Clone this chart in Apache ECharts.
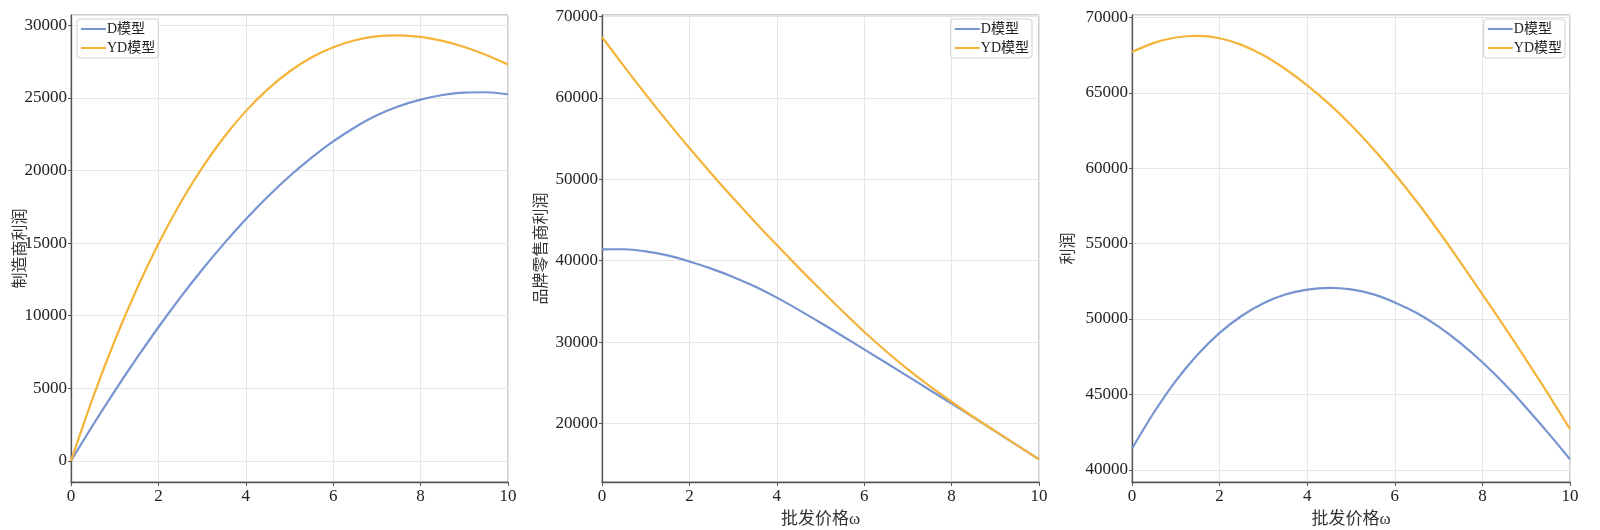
<!DOCTYPE html>
<html>
<head>
<meta charset="utf-8">
<script src="https://cdn.jsdelivr.net/npm/echarts@6/dist/echarts.min.js"></script>
<style>
html,body{margin:0;padding:0;background:#fff;}
#c{width:1600px;height:530px;}
</style>
</head>
<body>
<div id="c"></div>
<script>
// ---- data ----
const wPrice = [0,0.5,1,1.5,2,2.5,3,3.5,4,4.5,5,5.5,6,6.5,7,7.5,8,8.5,9,9.5,10];
const seriesNames = ['D模型', 'YD模型'];
const xTicks = [0, 2, 4, 6, 8, 10];

// 制造商利润
const mfrD  = [0,2450,4800,7050,9200,11240,13160,14960,16640,18190,19600,20870,22000,22980,23800,24420,24880,25200,25370,25390,25250];
const mfrYD = [0,4340,8270,11800,14950,17740,20180,22290,24090,25590,26820,27780,28490,28970,29240,29310,29200,28930,28510,27960,27300];

// 品牌零售商利润
const retD  = [41400,41410,41150,40650,39900,39030,38010,36820,35460,33960,32380,30750,29100,27450,25780,24110,22440,20750,19020,17300,15600];
const retYD = [67500,63920,60450,57100,53850,50730,47700,44770,41930,39150,36450,33820,31270,28870,26640,24580,22660,20790,19060,17310,15600];

// 利润
const totD  = [41400,43800,45900,47650,49080,50200,51050,51620,51950,52060,51960,51650,51100,50400,49500,48400,47130,45700,44120,42450,40700];
const totYD = [67700,68310,68670,68770,68620,68180,67490,66580,65500,64270,62870,61310,59620,57790,55820,53760,51640,49500,47290,45030,42700];

const yNames = ['制造商利润', '品牌零售商利润', '利润'];
const xName = '批发价格ω';
const yRanges = [[-1462, 30712], [12800, 70200], [39190, 70160]];

// ---- style ----
const FONT = "'Liberation Serif','Noto Sans CJK SC',serif";
const blue = '#7694d0';
const orange = '#f4b43a';
const grids = [
  {left: 71, top: 15, width: 437, height: 467},
  {left: 602, top: 15, width: 437, height: 467},
  {left: 1132, top: 15, width: 438, height: 467}
];
const nameGaps = [42, 52, 55];

function pairs(xs, ys) { return xs.map((x, i) => [x, ys[i]]); }

const data = [[mfrD, mfrYD], [retD, retYD], [totD, totYD]];

const option = {
  animation: false,
  backgroundColor: '#fff',
  grid: grids.map(g => Object.assign({show: true, borderColor: '#9a9a9a', borderWidth: 1, backgroundColor: 'transparent',
                                       containLabel: false, outerBoundsMode: 'none'}, g)),
  xAxis: grids.map((g, i) => ({
    type: 'value', gridIndex: i, min: 0, max: 10, interval: 2,
    name: i === 0 ? '' : xName,
    nameLocation: 'middle', nameGap: 29, nameMoveOverlap: false,
    nameTextStyle: {fontFamily: FONT, fontSize: 17, color: '#333'},
    axisLine: {show: true, onZero: false, lineStyle: {color: '#555', width: 1.3}},
    axisTick: {show: true, inside: false, length: 4, lineStyle: {color: '#555'}},
    axisLabel: {fontFamily: FONT, fontSize: 17, color: '#222', margin: 6, formatter: v => String(v)},
    splitLine: {show: true, lineStyle: {color: '#e6e6e6', width: 1}}
  })),
  yAxis: grids.map((g, i) => ({
    type: 'value', gridIndex: i, min: yRanges[i][0], max: yRanges[i][1],
    name: yNames[i], nameLocation: 'middle', nameGap: nameGaps[i], nameRotate: 90, nameMoveOverlap: false,
    nameTextStyle: {fontFamily: FONT, fontSize: 16, color: '#333'},
    axisLine: {show: true, onZero: false, lineStyle: {color: '#555', width: 1.3}},
    axisTick: {show: true, inside: false, length: 3, lineStyle: {color: '#555'}},
    axisLabel: {fontFamily: FONT, fontSize: 17, color: '#222', margin: 4, showMinLabel: false, showMaxLabel: false,
                formatter: v => String(Math.round(v))},
    splitLine: {show: true, lineStyle: {color: '#e6e6e6', width: 1}}
  })),
  legend: [
    {left: 77, top: 19},
    {right: 568, top: 19},
    {right: 35, top: 19}
  ].map((p, i) => Object.assign({
    orient: 'vertical',
    data: seriesNames.map(n => ({name: n})),
    icon: 'rect', itemWidth: 25, itemHeight: 2, itemGap: 5,
    padding: [3, 3, 3, 4],
    borderColor: '#cfcfcf', borderWidth: 1, borderRadius: 3,
    backgroundColor: 'rgba(255,255,255,0.9)',
    textStyle: {fontFamily: FONT, fontSize: 14, color: '#222', padding: [0, 0, 0, -4]},
    seriesIndex: [i * 2, i * 2 + 1]
  }, p)),
  series: []
};

data.forEach((pair, i) => {
  pair.forEach((ys, k) => {
    option.series.push({
      type: 'line', name: seriesNames[k], xAxisIndex: i, yAxisIndex: i,
      data: pairs(wPrice, ys), showSymbol: false, smooth: 0.3,
      lineStyle: {color: k === 0 ? blue : orange, width: 2.2},
      itemStyle: {color: k === 0 ? blue : orange},
      z: 3 + k
    });
  });
});

const chart = echarts.init(document.getElementById('c'), null, {renderer: 'canvas'});
chart.setOption(option);
</script>
</body>
</html>
